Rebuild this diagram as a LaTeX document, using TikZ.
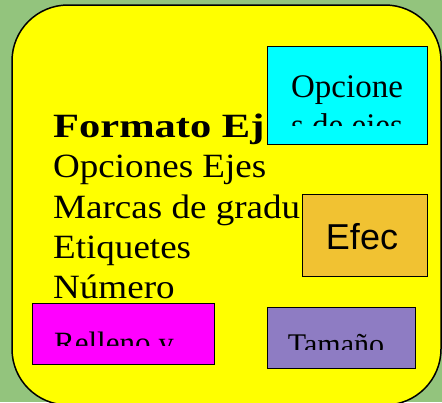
\documentclass[tikz,border=0pt]{standalone}
\usepackage{fontspec}
\setmainfont{Liberation Serif}
\newfontfamily\mainfont[FakeStretch=1.09, BoldFeatures={FakeStretch=1.25}]{Liberation Serif}
\newfontfamily\arialfont{Liberation Sans}
\definecolor{BgGreen}{HTML}{93C47D}
\definecolor{BoxYellow}{HTML}{FFFF00}
\definecolor{OptCyan}{HTML}{00FFFF}
\definecolor{EfecOrange}{HTML}{F1C232}
\definecolor{FillMagenta}{HTML}{FF00FF}
\definecolor{SizePurple}{HTML}{8E7CC3}

\begin{document}
\begin{tikzpicture}[x=1pt, y=-1pt]
\fill[BgGreen] (0,0) rectangle (442,402);
\useasboundingbox (0,0) rectangle (442,402);

\draw[fill=BoxYellow, line width=1.5pt, rounded corners=56pt] (12,5) rectangle (441,405);


\tikzset{LineStyle/.style = {anchor=base west, inner sep=0pt, font=\mainfont\fontsize{34}{40}\selectfont} }

\node[LineStyle, font=\mainfont\bfseries\fontsize{34}{40}\selectfont] (T1) at (53,137) {Formato Ej};
\node[LineStyle] (T2) at (53,177) {Opciones Ejes};
\node[LineStyle] (T3) at (53,218) {Marcas de gradu};
\node[LineStyle] (T4) at (53,258) {Etiquetes};
\node[LineStyle] (T5) at (53,298) {Número};


\tikzset{BoxStyle/.style = {
 draw = black,
 line width = 1pt,
 anchor = north west,
 inner sep = 0pt,
 outer sep = 0pt} }
\tikzset{BoxText/.style = {anchor=base, inner sep=0pt, font=\fontsize{#1}{#1}\selectfont} }

\node[BoxStyle, fill=OptCyan, minimum width=160pt, minimum height=98pt] (B1) at (267,46) {};
\begin{scope}
\clip (B1.north west) rectangle ([yshift=19pt]B1.south east);
\node[BoxText=33] (B1a) at (347,97) {Opcione};
\node[BoxText=33] (B1b) at (347,136) {s de ejes};
\end{scope}

\node[BoxStyle, fill=EfecOrange, minimum width=125pt, minimum height=82pt] (B2) at (302,194) {};
\node[BoxText=36, font=\arialfont\fontsize{36}{36}\selectfont] (B2a) at (362,249) {Efec};

\node[BoxStyle, fill=FillMagenta, minimum width=182pt, minimum height=61pt] (B3) at (32,303) {};
\begin{scope}
\clip (B3.north west) rectangle ([yshift=19pt]B3.south east);
\node[BoxText=31] (B3a) at (114,353) {Relleno y};
\end{scope}

\node[BoxStyle, fill=SizePurple, minimum width=148pt, minimum height=61pt] (B4) at (267,307) {};
\begin{scope}
\clip (B4.north west) rectangle ([yshift=19pt]B4.south east);
\node[BoxText=30] (B4a) at (336,354) {Tamaño};
\end{scope}

\end{tikzpicture}
\end{document}
